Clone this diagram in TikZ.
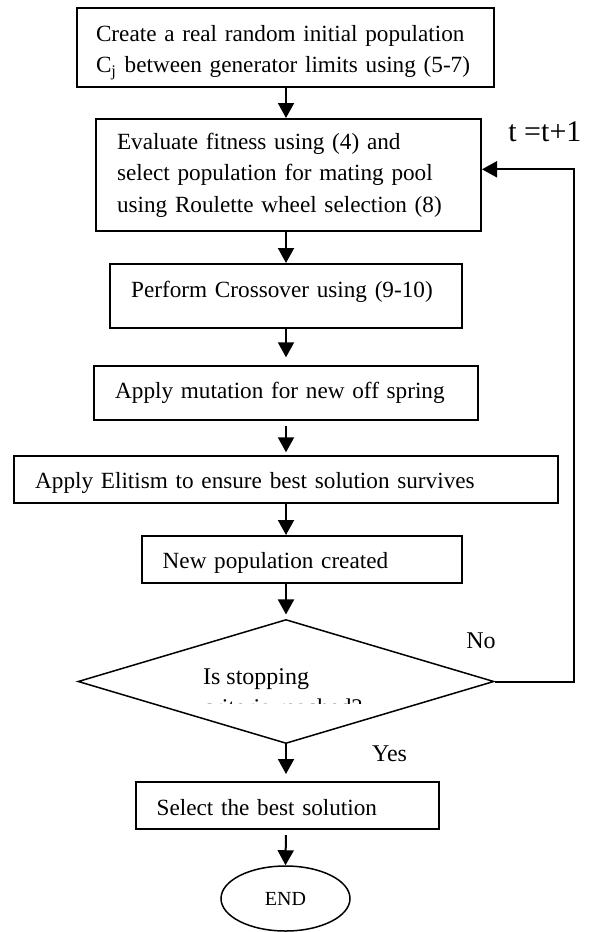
\documentclass[tikz,border=0pt]{standalone}
\usepackage{fontspec}
\setmainfont{Liberation Serif}
\usetikzlibrary{shapes.geometric,arrows.meta}
\begin{document}
\begin{tikzpicture}[x=0.5pt,y=-0.5pt,
    blocco/.style={draw, line width=1pt, align=left, inner xsep=10.5pt, font=\fontsize{11.6}{15.5}\selectfont},
    riga/.style={blocco, inner ysep=0pt},
    freccia/.style={line width=1pt, -{Triangle[length=7.5pt,width=8pt]}},
    testo/.style={inner sep=0pt, font=\fontsize{12}{14}\selectfont}]
        \useasboundingbox (0,0) rectangle (591,932);

        % Blocchi dell'algoritmo
        \node[riga, inner xsep=9.5pt, text width=189.5pt, text height=16.85pt, text depth=22.65pt] (init) at (285.5,47.5) {Create a real random initial population\\C\textsubscript{j} between generator limits using (5-7)};
        \node[blocco, text width=171.5pt, minimum height=56pt, font=\fontsize{11.6}{15.7}\selectfont] (fitness) at (288.5,175) {Evaluate fitness using (4) and\\select population for mating pool\\\mbox{using Roulette wheel selection (8)}};
        \node[riga, text width=155pt, text height=16.5pt, text depth=15.5pt] (crossover) at (286.2,296) {Perform Crossover using (9-10)};
        \node[riga, text width=171pt, text height=16.15pt, text depth=10.85pt] (mutation) at (286.2,393) {Apply mutation for new off spring};
        \node[riga, text width=251pt, text height=16.15pt, text depth=7.5pt] (elitism) at (286.2,479.65) {Apply Elitism to ensure best solution survives};
        \node[riga, text width=139.3pt, text height=16.15pt, text depth=7.5pt] (newpop) at (302,559.65) {New population created};

        % Rombo di decisione
        \node[diamond, draw, line width=0.75pt, minimum width=208pt, minimum height=62pt, inner sep=0pt] (stopcheck) at (286,681.5) {};
        \node[testo, anchor=base west] (domanda) at (202.7,684) {Is stopping};
        \begin{scope}
            \clip (150,690) rectangle (420,703.3); % seconda riga tagliata
            \node[testo, anchor=base west] (domanda2) at (202.7,715) {criteria reached?};
        \end{scope}

        \node[riga, text width=130.65pt, text height=16.65pt, text depth=6.75pt] (best) at (287.35,805.1) {Select the best solution};
        \node[ellipse, draw, line width=0.75pt, minimum width=64.5pt, minimum height=32.5pt, inner sep=0pt, font=\fontsize{10}{12}\selectfont] (fine) at (285.5,898.5) {END};

        % Frecce
        \draw[freccia] (init.south -| stopcheck.north) -- (fitness.north -| stopcheck.north);
        \draw[freccia] (fitness.south -| stopcheck.north) -- (crossover.north -| stopcheck.north);
        \draw[freccia, shorten >=3.85pt] (crossover.south -| stopcheck.north) -- (mutation.north -| stopcheck.north);
        \draw[freccia, shorten <=2.5pt, shorten >=1.35pt] (mutation.south -| stopcheck.north) -- (elitism.north -| stopcheck.north);
        \draw[freccia] (elitism.south -| stopcheck.north) -- (newpop.north -| stopcheck.north);
        \draw[freccia, shorten >=2.15pt] (newpop.south -| stopcheck.north) -- (stopcheck.north);
        \draw[freccia, shorten >=3.35pt] (stopcheck.south) -- (best.north -| stopcheck.south);
        \draw[freccia, shorten <=2.85pt] (best.south -| stopcheck.south) -- (fine.north);

        % Ritorno del ciclo
        \coordinate (ritorno) at (574,169.3);
        \draw[freccia] (stopcheck.east) -| (ritorno) -- (ritorno -| fitness.east);

        \node[testo, anchor=base west, font=\fontsize{15}{17}\selectfont] (incremento) at (508,141.7) {t =t+1}; % Etichetta del ciclo
        \node[testo, anchor=base west] (no) at (466,648.3) {No};
        \node[testo, anchor=base west] (si) at (371.7,761) {Yes};

    \end{tikzpicture}
\end{document}
